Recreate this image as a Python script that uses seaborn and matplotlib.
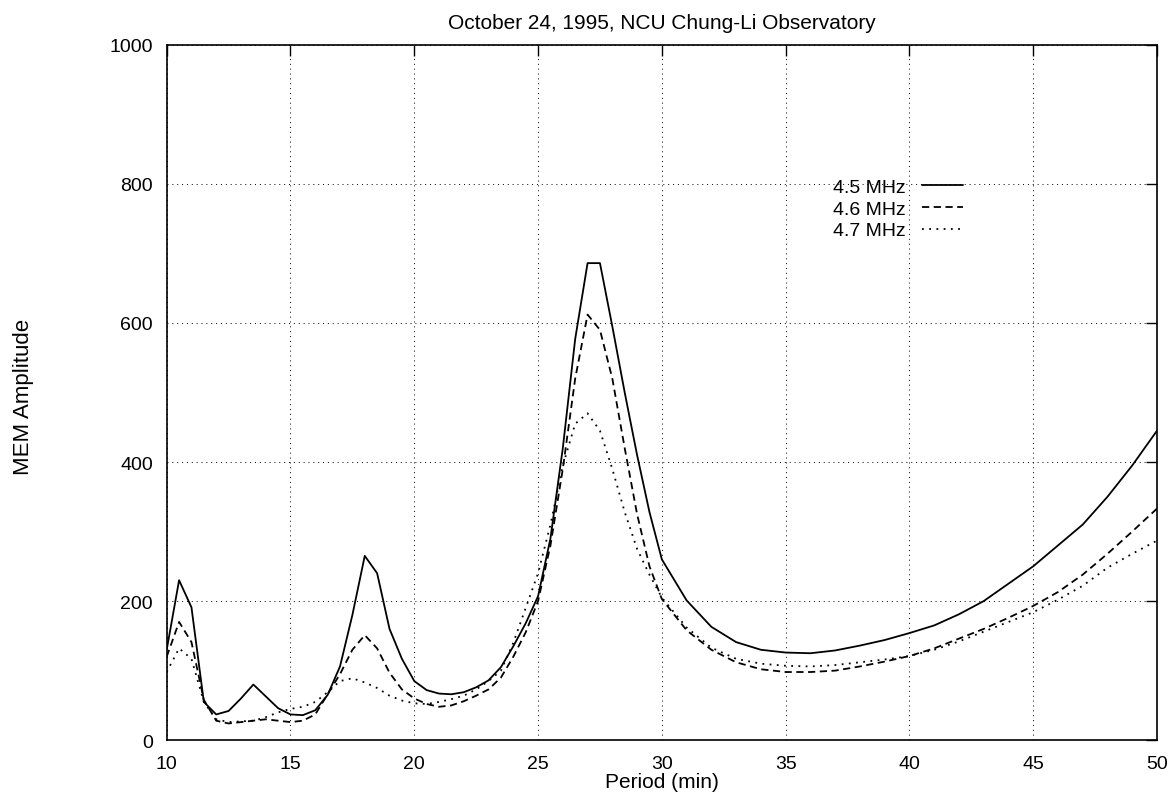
import matplotlib
matplotlib.use("Agg")
import matplotlib.pyplot as plt
import seaborn as sns
import numpy as np
import pandas as pd

period = [10, 10.5, 11, 11.5, 12, 12.5, 13, 13.5, 14, 14.5, 15, 15.5, 16, 16.5, 17, 17.5,
          18, 18.5, 19, 19.5, 20, 20.5, 21, 21.5, 22, 22.5, 23, 23.5, 24, 24.5, 25, 25.5,
          26, 26.5, 27, 27.5, 28, 28.5, 29, 29.5, 30, 31, 32, 33, 34, 35, 36, 37, 38, 39,
          40, 41, 42, 43, 44, 45, 46, 47, 48, 49, 50]

mhz45 = [130, 230, 191, 55, 37, 42, 60, 80, 63, 46, 37, 36, 43, 65, 106, 180,
         265, 240, 160, 117, 85, 72, 67, 66, 69, 76, 86, 105, 135, 168, 207, 290,
         420, 577, 686, 686, 595, 500, 410, 328, 260, 201, 163, 141, 130, 126, 125, 129, 136, 144,
         154, 165, 181, 200, 225, 250, 280, 310, 350, 395, 445]

mhz46 = [120, 170, 141, 58, 28, 24, 26, 28, 30, 28, 26, 28, 37, 66, 95, 130,
         151, 132, 97, 73, 60, 52, 48, 50, 56, 64, 73, 90, 120, 155, 200, 280,
         390, 520, 612, 590, 520, 420, 325, 250, 203, 158, 130, 112, 102, 98, 98, 100, 106, 113,
         121, 132, 146, 160, 176, 193, 213, 238, 268, 300, 333]

mhz47 = [98, 132, 117, 55, 30, 26, 27, 28, 33, 40, 45, 48, 55, 69, 85, 89,
         83, 75, 64, 57, 53, 52, 55, 59, 64, 73, 85, 100, 140, 190, 240, 310,
         395, 455, 470, 445, 390, 328, 275, 238, 205, 162, 133, 117, 110, 107, 106, 108, 112, 116,
         121, 130, 142, 156, 170, 184, 202, 222, 248, 268, 287]

labels = ["4.5 MHz", "4.6 MHz", "4.7 MHz"]
xticks = [10, 15, 20, 25, 30, 35, 40, 45, 50]
yticks = [0, 200, 400, 600, 800, 1000]

sns.set_theme(style="white")
plt.rcParams['font.family'] = ['Liberation Sans', 'DejaVu Sans']
plt.rcParams['text.color'] = 'black'
plt.rcParams['axes.labelcolor'] = 'black'

fig = plt.figure(figsize=(11.74, 8.03), dpi=100)
ax = fig.add_axes([0.142, 0.077, 0.8435, 0.866])

styles = ["-", (0, (4, 2.5)), (0, (1, 3))]
for vals, lab, ls in zip([mhz45, mhz46, mhz47], labels, styles):
    df = pd.DataFrame({"Period": period, "Amp": vals})
    sns.lineplot(data=df, x="Period", y="Amp", ax=ax, color="black", lw=1.3,
                 linestyle=ls, label=lab)

ax.set_xlim(10, 50)
ax.set_ylim(0, 1000)
ax.set_xticks(xticks)
ax.set_yticks(yticks)
ax.tick_params(direction="in", length=8, width=1, top=True, right=True,
               labelsize=14, colors="black")
ax.tick_params(axis="x", pad=11)
ax.tick_params(axis="y", pad=10)
ax.grid(True, linestyle=(0, (1, 4)), color="black", lw=0.7)
for s in ax.spines.values():
    s.set_color("black")
    s.set_linewidth(1.2)

ax.set_xlabel("Period (min)", fontsize=15, labelpad=0, color="black")
ax.set_ylabel("MEM Amplitude", fontsize=16, color="black")
ax.yaxis.set_label_coords(-0.134, 0.495)
ax.set_title("October 24, 1995, NCU Chung-Li Observatory", fontsize=15, pad=12,
             color="black")

leg = ax.legend(loc="upper right", bbox_to_anchor=(963 / 1174, 1 - 179 / 803),
                bbox_transform=fig.transFigure, frameon=False, borderpad=0,
                borderaxespad=0, markerfirst=False, fontsize=14, handlelength=2.1,
                labelspacing=0.22, handletextpad=0.85)
for t in leg.get_texts():
    t.set_color("black")

fig.savefig("out.png", dpi=100)
